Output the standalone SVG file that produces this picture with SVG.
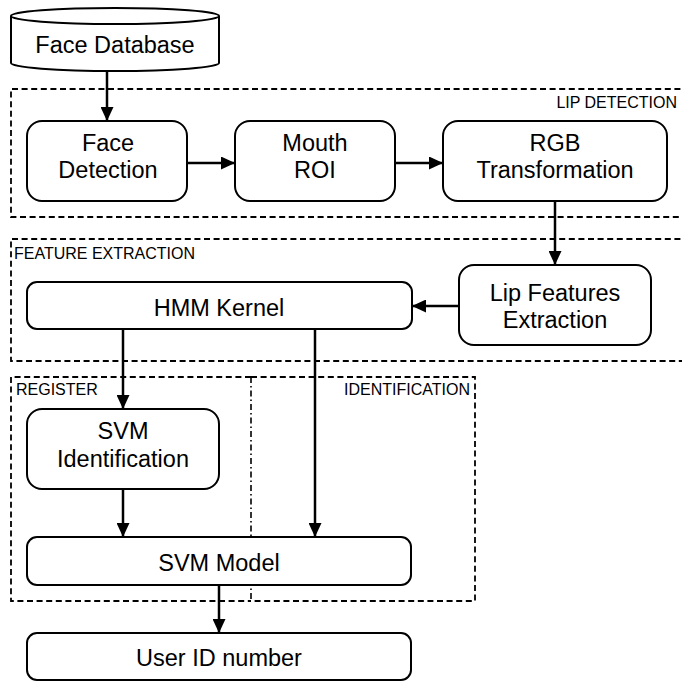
<svg xmlns="http://www.w3.org/2000/svg" width="682" height="681" viewBox="0 0 682 681">
<style>
.node{fill:#fff;stroke:#000;stroke-width:2}
.lbl{font-family:"Liberation Sans",Arial,sans-serif;font-size:23.5px;fill:#000;text-anchor:middle}
.grp{fill:none;stroke:#000;stroke-width:1.8;stroke-dasharray:6 3.6}
.glbl{font-family:"Liberation Sans",Arial,sans-serif;font-size:16px;fill:#000}
.conn{fill:none;stroke:#000;stroke-width:2.5;marker-end:url(#ah)}
</style>
<defs>
<marker id="ah" markerUnits="userSpaceOnUse" markerWidth="14" markerHeight="13" refX="14" refY="6.5" orient="auto">
<path d="M0,0 L14,6.5 L0,13 Z" fill="#000"/>
</marker>
</defs>
<rect width="682" height="681" fill="#fff"/>
<g id="groups">
<g id="lip-detection">
<path class="grp" d="M690,89 H11 V217 H690"/>
<text class="glbl" x="677" y="108" text-anchor="end">LIP DETECTION</text>
</g>
<g id="feature-extraction">
<path class="grp" d="M690,239 H11 V361 H690"/>
<text class="glbl" x="14" y="259">FEATURE EXTRACTION</text>
</g>
<g id="register">
<path class="grp" d="M251,377 H11 V601 H251"/>
<text class="glbl" x="16" y="395">REGISTER</text>
</g>
<g id="identification">
<path class="grp" d="M251,377 H475 V601 H251"/>
<line x1="251" y1="377" x2="251" y2="601" stroke="#000" stroke-width="1.6" stroke-dasharray="6 3 1.5 3"/>
<text class="glbl" x="470" y="395" text-anchor="end">IDENTIFICATION</text>
</g>
</g>
<g id="connectors">
<line class="conn" x1="107" y1="71" x2="107" y2="121"/>
<line class="conn" x1="187" y1="163" x2="235" y2="163"/>
<line class="conn" x1="395" y1="163" x2="443" y2="163"/>
<line class="conn" x1="555" y1="201" x2="555" y2="265"/>
<line class="conn" x1="459" y1="306" x2="412" y2="306"/>
<line class="conn" x1="123" y1="329" x2="123" y2="409"/>
<line class="conn" x1="315" y1="329" x2="315" y2="537"/>
<line class="conn" x1="123" y1="489" x2="123" y2="537"/>
<line class="conn" x1="219" y1="585" x2="219" y2="633"/>
</g>
<g id="face-database">
<path class="node" d="M11,16 A104,8 0 0 1 219,16 V63 A104,8 0 0 1 11,63 Z"/>
<path d="M11,16 A104,8 0 0 0 219,16" fill="none" stroke="#000" stroke-width="2"/>
<text class="lbl" x="115" y="53">Face Database</text>
</g>
<g id="face-detection">
<rect class="node" x="27" y="121" width="160" height="80" rx="15"/>
<text class="lbl" x="108" y="151">Face</text>
<text class="lbl" x="108" y="178">Detection</text>
</g>
<g id="mouth-roi">
<rect class="node" x="235" y="121" width="160" height="80" rx="15"/>
<text class="lbl" x="315" y="151">Mouth</text>
<text class="lbl" x="315" y="178">ROI</text>
</g>
<g id="rgb-transformation">
<rect class="node" x="443" y="121" width="224" height="80" rx="15"/>
<text class="lbl" x="555" y="151">RGB</text>
<text class="lbl" x="555" y="178">Transformation</text>
</g>
<g id="lip-features-extraction">
<rect class="node" x="459" y="265" width="192" height="80" rx="15"/>
<text class="lbl" x="555" y="301">Lip Features</text>
<text class="lbl" x="555" y="328">Extraction</text>
</g>
<g id="hmm-kernel">
<rect class="node" x="27" y="282" width="385" height="47" rx="10"/>
<text class="lbl" x="219" y="316">HMM Kernel</text>
</g>
<g id="svm-identification">
<rect class="node" x="27" y="409" width="192" height="80" rx="15"/>
<text class="lbl" x="123" y="439">SVM</text>
<text class="lbl" x="123" y="467">Identification</text>
</g>
<g id="svm-model">
<rect class="node" x="27" y="537" width="384" height="48" rx="10"/>
<text class="lbl" x="219" y="571">SVM Model</text>
</g>
<g id="user-id-number">
<rect class="node" x="27" y="633" width="384" height="47" rx="10"/>
<text class="lbl" x="219" y="666">User ID number</text>
</g>
</svg>
